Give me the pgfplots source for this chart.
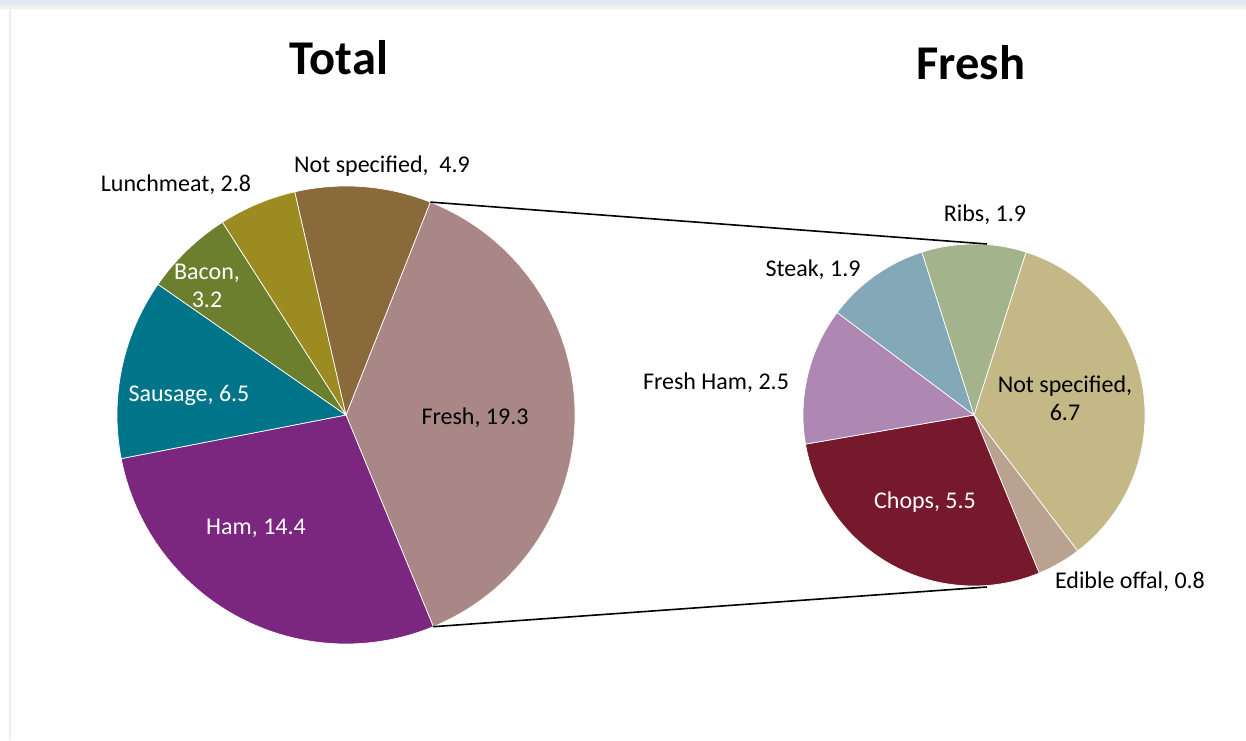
\documentclass[border=0pt]{standalone}
\usepackage{pgfplots}
\pgfplotsset{compat=1.18}
\usepackage{pgfplotstable}
\usepackage{fontspec}
\setmainfont{Carlito}

\definecolor{cFresh}{HTML}{A98787}
\definecolor{cHam}{HTML}{7B2780}
\definecolor{cSausage}{HTML}{00758A}
\definecolor{cBacon}{HTML}{6B7F2F}
\definecolor{cLunch}{HTML}{9C8B21}
\definecolor{cNST}{HTML}{8A693A}
\definecolor{cNSF}{HTML}{C4B887}
\definecolor{cOffal}{HTML}{B9A290}
\definecolor{cChops}{HTML}{76192C}
\definecolor{cFHam}{HTML}{AE88B2}
\definecolor{cSteak}{HTML}{83A8B7}
\definecolor{cRibs}{HTML}{A3B38B}
\definecolor{cBand}{HTML}{E4EAF5}

% Total pie (clockwise from the split edge)
\pgfplotstableread[col sep=comma]{
name,value,color
Fresh,19.3,cFresh
Ham,14.4,cHam
Sausage,6.5,cSausage
Bacon,3.2,cBacon
Lunchmeat,2.8,cLunch
Not specified,4.9,cNST
}\totaltbl

% Fresh pie
\pgfplotstableread[col sep=comma]{
name,value,color
Not specified,6.7,cNSF
Edible offal,0.8,cOffal
Chops,5.5,cChops
Fresh Ham,2.5,cFHam
Steak,1.9,cSteak
Ribs,1.9,cRibs
}\freshtbl

% #1 table, #2 cx, #3 cy, #4 radius, #5 start angle
\newcommand\drawpie[5]{%
  \pgfplotstablegetrowsof{#1}%
  \pgfmathtruncatemacro\lastrow{\pgfplotsretval-1}%
  \gdef\pietotal{0}%
  \pgfplotsforeachungrouped \i in {0,...,\lastrow}{%
    \pgfplotstablegetelem{\i}{value}\of{#1}%
    \pgfmathsetmacro\tmpsum{\pietotal+\pgfplotsretval}%
    \xdef\pietotal{\tmpsum}%
  }%
  \xdef\curang{#5}%
  \pgfplotsforeachungrouped \i in {0,...,\lastrow}{%
    \pgfplotstablegetelem{\i}{value}\of{#1}\let\pval\pgfplotsretval
    \pgfplotstablegetelem{\i}{color}\of{#1}\let\pcolor\pgfplotsretval
    \pgfmathsetmacro\endang{\curang-360*\pval/\pietotal}%
    \edef\temp{\noexpand\fill[\pcolor, draw=white, line width=0.7pt]
      (axis cs:#2,#3) -- ++(\curang:#4pt)
      arc[start angle=\curang, end angle=\endang, radius=#4pt] -- cycle;}%
    \temp
    \xdef\curang{\endang}%
  }%
}

\begin{document}
\begin{tikzpicture}
\begin{axis}[
  x=1pt, y=1pt,
  xmin=0, xmax=1246, ymin=0, ymax=740,
  scale only axis, hide axis, clip=false,
]
% frame
\fill[white] (axis cs:0,0) rectangle (axis cs:1246,740);
\fill[black!6] (axis cs:0,731) rectangle (axis cs:1246,740);
\fill[cBand] (axis cs:0,735) rectangle (axis cs:1246,740);
\fill[black!7] (axis cs:9,0) rectangle (axis cs:11,731);

\drawpie{\totaltbl}{346}{325}{229}{68.4}
\drawpie{\freshtbl}{974}{325}{171}{72.3}

% connector lines
\draw[black, line width=1.6pt] (axis cs:430.3,537.9) -- (axis cs:987,496);
\draw[black, line width=1.6pt] (axis cs:433.2,113.3) -- (axis cs:987,153);

\tikzset{lab/.style={font=\fontsize{24}{28}\selectfont, align=center, inner sep=0pt}}
\node[font=\fontsize{48.5}{52}\selectfont\bfseries] at (axis cs:339,682) {Total};
\node[font=\fontsize{48.5}{52}\selectfont\bfseries] at (axis cs:971,677) {Fresh};

\node[lab] at (axis cs:382,574) {Not specified,\ \ 4.9};
\node[lab] at (axis cs:176,555) {Lunchmeat, 2.8};
\node[lab, text=white] at (axis cs:207,454) {Bacon,\\3.2};
\node[lab, text=white] at (axis cs:189,345) {Sausage, 6.5};
\node[lab, text=white] at (axis cs:256,212) {Ham, 14.4};
\node[lab] at (axis cs:475,322) {Fresh, 19.3};

\node[lab] at (axis cs:985,525) {Ribs, 1.9};
\node[lab] at (axis cs:813,470) {Steak, 1.9};
\node[lab] at (axis cs:716,357) {Fresh Ham, 2.5};
\node[lab] at (axis cs:1065,342) {Not specified,\\6.7};
\node[lab, text=white] at (axis cs:925,238) {Chops, 5.5};
\node[lab] at (axis cs:1130,158) {Edible offal, 0.8};
\end{axis}
\end{tikzpicture}
\end{document}
